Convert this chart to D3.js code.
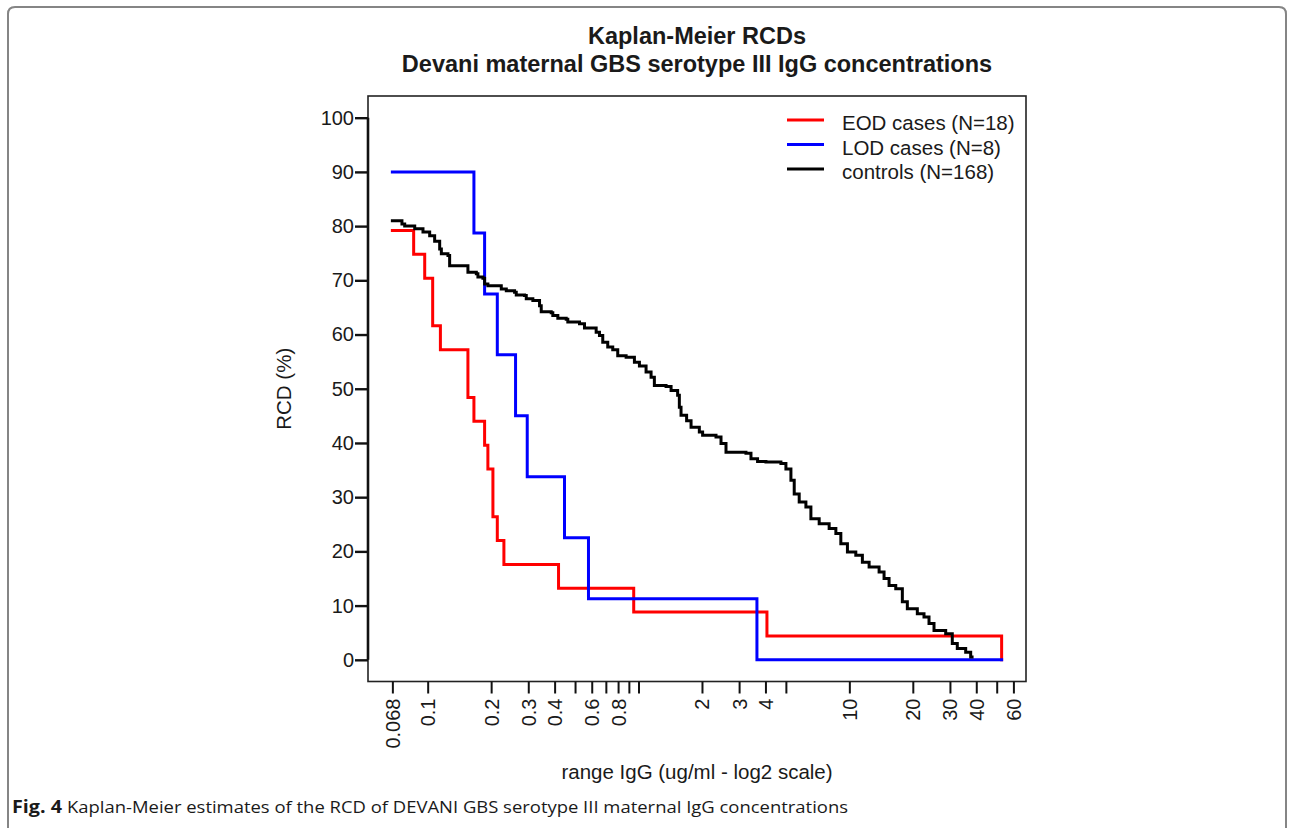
<!DOCTYPE html>
<html>
<head>
<meta charset="utf-8">
<script src="https://cdn.jsdelivr.net/npm/d3@7"></script>
<style>
  html, body { margin: 0; padding: 0; background: #fff; }
  svg { display: block; }
  text { font-family: "Liberation Sans", Arial, sans-serif; fill: #1a1a1a; }
</style>
</head>
<body>
<svg id="chart" width="1292" height="828"></svg>
<script>
// ---------------- DATA ----------------
const titleLines = ["Kaplan-Meier RCDs", "Devani maternal GBS serotype III IgG concentrations"];
const xTitle = "range IgG (ug/ml - log2 scale)";
const yTitle = "RCD (%)";
const captionBold = "Fig. 4";
const captionText = "Kaplan-Meier estimates of the RCD of DEVANI GBS serotype III maternal IgG concentrations";

const xTickValues = [0.068, 0.1, 0.2, 0.3, 0.4, 0.5, 0.6, 0.7, 0.8, 0.9, 1, 2, 3, 4, 5, 10, 20, 30, 40, 50, 60];
const xTickLabels = ["0.068", "0.1", "0.2", "0.3", "0.4", "", "0.6", "", "0.8", "", "", "2", "3", "4", "", "10", "20", "30", "40", "", "60"];
const yTickValues = [0, 10, 20, 30, 40, 50, 60, 70, 80, 90, 100];

const seriesNames = ["EOD cases (N=18)", "LOD cases (N=8)", "controls (N=168)"];
const seriesColors = ["#ff0000", "#0000ff", "#000000"];

// EOD cases: concentration at which each step occurs, RCD after the step
const eodConc = [0.068, 0.0858, 0.0968, 0.1056, 0.1149, 0.1552, 0.1657, 0.1862, 0.1930, 0.2039, 0.2139, 0.2299, 0.4175, 0.9489, 4.066, 52.76];
const eodPct  = [79.2, 74.8, 70.4, 61.6, 57.2, 48.4, 44.0, 39.6, 35.2, 26.4, 22.0, 17.6, 13.2, 8.8, 4.4, 0];

// LOD cases
const lodConc = [0.068, 0.1657, 0.1862, 0.2139, 0.2611, 0.2966, 0.4456, 0.5790, 3.645, 52.76];
const lodPct  = [90, 78.75, 67.5, 56.25, 45, 33.75, 22.5, 11.25, 0, 0];

// controls
const ctrlConc = [0.068, 0.0755, 0.0778, 0.0868, 0.0950, 0.1022, 0.1079, 0.1140, 0.1161, 0.1248,
  0.1271, 0.1552, 0.1701, 0.1731, 0.1828, 0.1862, 0.1930, 0.2234, 0.2360, 0.2583,
  0.2631, 0.2881, 0.2935, 0.3154, 0.3393, 0.3456, 0.3854, 0.3922, 0.4143, 0.4540,
  0.4620, 0.5249, 0.5543, 0.6297, 0.6528, 0.6767, 0.7146, 0.7547, 0.7970, 0.8734,
  0.9562, 1.010, 1.086, 1.147, 1.189, 1.351, 1.427, 1.533, 1.562, 1.591,
  1.691, 1.775, 1.943, 2.014, 2.331, 2.462, 2.600, 3.233, 3.415, 3.670,
  4.022, 4.737, 5.002, 5.283, 5.477, 5.783, 6.222, 6.571, 7.193, 8.021,
  8.631, 9.112, 9.793, 10.73, 11.53, 12.41, 13.84, 14.61, 15.43, 16.60,
  17.84, 18.84, 21.01, 22.60, 23.87, 25.21, 28.64, 30.78, 32.51, 35.63,
  37.63, 38.2];
const ctrlPct = [81.0, 80.4, 80.0, 79.5, 78.9, 78.2, 77.2, 75.8, 74.9, 74.6,
  72.7, 71.5, 71.2, 70.6, 70.4, 69.3, 69.0, 68.4, 68.1, 67.8,
  67.3, 67.2, 66.6, 66.3, 65.3, 64.2, 64.0, 63.5, 63.0, 62.8,
  62.3, 62.0, 61.2, 60.4, 59.8, 58.6, 57.7, 57.2, 56.1, 55.8,
  54.9, 54.2, 53.1, 52.1, 50.6, 50.4, 49.7, 48.8, 46.6, 45.1,
  44.1, 42.9, 42.0, 41.4, 41.1, 39.9, 38.3, 38.1, 37.1, 36.6,
  36.5, 36.2, 35.2, 33.1, 30.6, 29.1, 28.2, 26.0, 25.1, 24.2,
  23.3, 21.4, 19.9, 19.3, 18.0, 17.1, 16.2, 15.0, 13.7, 13.1,
  10.7, 9.4, 8.5, 7.9, 6.7, 5.4, 4.8, 3.0, 2.1, 1.4,
  0.5, 0.5];

// ---------------- LAYOUT ----------------
const svg = d3.select("#chart");
const plot = { left: 368, right: 1026, top: 96, bottom: 681.5 };

// R-style 4% padding on a log2 axis
const allConc = eodConc.concat(lodConc, ctrlConc);
const lo = Math.log2(d3.min(allConc)), hi = Math.log2(d3.max(allConc));
const pad = (hi - lo) * 0.04;
const x = d3.scaleLog().base(2)
  .domain([Math.pow(2, lo - pad), Math.pow(2, hi + pad)])
  .range([plot.left, plot.right]);
const y = d3.scaleLinear().domain([-4, 104]).range([plot.bottom, plot.top]);

// outer frame
svg.append("path")
  .attr("d", "M8,840 L8,14 Q8,7 15,7 L1279,7 Q1286,7 1286,14 L1286,840")
  .attr("fill", "none").attr("stroke", "#858585").attr("stroke-width", 2);

// titles
svg.selectAll("text.title").data(titleLines).join("text")
  .attr("class", "title")
  .attr("x", (plot.left + plot.right) / 2)
  .attr("y", (d, i) => 44 + i * 28)
  .attr("text-anchor", "middle")
  .style("font-size", "23.5px").style("font-weight", "bold")
  .text(d => d);

// series
const stepLine = d3.line().curve(d3.curveStepAfter).x(d => x(d[0])).y(d => y(d[1]));
const series = [
  d3.zip(eodConc, eodPct),
  d3.zip(lodConc, lodPct),
  d3.zip(ctrlConc, ctrlPct)
];
series.forEach((pts, i) => {
  svg.append("path").datum(pts)
    .attr("d", stepLine)
    .attr("fill", "none")
    .attr("stroke", seriesColors[i])
    .attr("stroke-width", 3)
    .attr("stroke-linejoin", "miter")
    .attr("stroke-linecap", "square");
});

// plot box
svg.append("rect")
  .attr("x", plot.left).attr("y", plot.top)
  .attr("width", plot.right - plot.left).attr("height", plot.bottom - plot.top)
  .attr("fill", "none").attr("stroke", "#222").attr("stroke-width", 1.6);

// y axis
const yAxis = d3.axisLeft(y).tickValues(yTickValues).tickSize(13).tickPadding(1).tickSizeOuter(0);
const gy = svg.append("g").attr("transform", `translate(${plot.left},0)`).call(yAxis);
gy.select(".domain").remove();
gy.selectAll(".tick line").attr("stroke", "#111").attr("stroke-width", 2.4);
gy.selectAll(".tick text").style("font-size", "20px").style("font-family", "'Liberation Sans', Arial, sans-serif").attr("fill", "#1a1a1a");
svg.append("line")
  .attr("x1", plot.left).attr("x2", plot.left)
  .attr("y1", y(0)).attr("y2", y(100))
  .attr("stroke", "#111").attr("stroke-width", 2.6);

// x axis
const labelMap = new Map(xTickValues.map((v, i) => [v, xTickLabels[i]]));
const xAxis = d3.axisBottom(x).tickValues(xTickValues).tickSize(12).tickSizeOuter(0)
  .tickFormat(d => labelMap.get(d));
const gx = svg.append("g").attr("transform", `translate(0,${plot.bottom})`).call(xAxis);
gx.select(".domain").remove();
gx.selectAll(".tick line").attr("stroke", "#111").attr("stroke-width", 2);
gx.selectAll(".tick text")
  .attr("transform", "rotate(-90)")
  .attr("x", -17).attr("y", 0).attr("dy", "0.35em")
  .attr("text-anchor", "end")
  .style("font-size", "20px").style("font-family", "'Liberation Sans', Arial, sans-serif").attr("fill", "#1a1a1a");

// axis titles
svg.append("text")
  .attr("x", (plot.left + plot.right) / 2).attr("y", 779)
  .attr("text-anchor", "middle").style("font-size", "20.5px")
  .text(xTitle);
svg.append("text")
  .attr("transform", `translate(284,${(plot.top + plot.bottom) / 2}) rotate(-90)`)
  .attr("dy", "0.35em")
  .attr("text-anchor", "middle").style("font-size", "20.5px")
  .text(yTitle);

// legend
const leg = svg.append("g");
seriesNames.forEach((name, i) => {
  const ly = 120 + i * 24.5;
  leg.append("line")
    .attr("x1", 787).attr("x2", 824).attr("y1", ly).attr("y2", ly)
    .attr("stroke", seriesColors[i]).attr("stroke-width", 3);
  leg.append("text")
    .attr("x", 842).attr("y", ly + 3).attr("dy", "0.35em")
    .style("font-size", "20.5px")
    .text(name);
});

// caption
svg.append("text")
  .attr("x", 12).attr("y", 813)
  .style("font-family", "'Liberation Sans Narrow', 'Open Sans', sans-serif")
  .style("font-size", "17px").style("font-weight", "bold")
  .attr("textLength", 50).attr("lengthAdjust", "spacingAndGlyphs")
  .text(captionBold);
svg.append("text")
  .attr("x", 67).attr("y", 813)
  .style("font-family", "'Liberation Sans Narrow', 'Open Sans', sans-serif")
  .style("font-size", "17px")
  .attr("textLength", 781).attr("lengthAdjust", "spacingAndGlyphs")
  .text(captionText);
</script>
</body>
</html>
